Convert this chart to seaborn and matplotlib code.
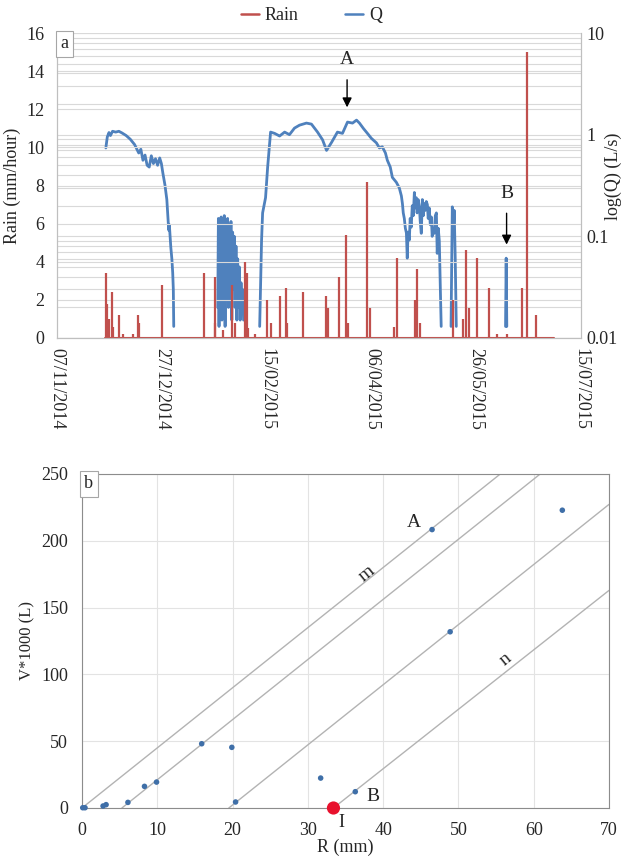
import numpy as np
import pandas as pd
import matplotlib
matplotlib.use("Agg")
import matplotlib.pyplot as plt
import matplotlib.dates as mdates
from matplotlib.ticker import FixedLocator, FixedFormatter, LogLocator, NullFormatter
from matplotlib.lines import Line2D
import seaborn as sns

# ---- panel a: rain events (days after 07/11/2014, mm/hour) ----
start_date = "2014-11-07"
end_date = "2015-07-15"
record_days = [23.0, 237.0]
rain_day = [23.3, 23.8, 24.8, 26.4, 26.8, 29.8, 31.4, 36.2, 38.8, 39.2,
            50.2, 70.0, 75.2, 75.6, 79.0, 83.3, 84.8, 89.7, 90.6, 91.0,
            94.3, 100.2, 101.9, 106.4, 109.2, 109.8, 117.6, 128.3, 129.5, 134.7,
            138.1, 139.0, 148.0, 149.5, 161.0, 162.2, 171.0, 171.8, 173.0, 189.0,
            193.5, 195.2, 196.7, 200.5, 206.2, 210.0, 214.5, 222.0, 224.0, 228.6]
rain_mm = [3.4, 1.8, 1.0, 2.4, 0.6, 1.2, 0.2, 0.2, 1.2, 0.8,
           2.8, 3.4, 3.2, 0.8, 0.4, 2.8, 0.8, 4.0, 3.4, 0.5,
           0.2, 2.0, 0.8, 2.2, 2.6, 0.8, 2.4, 2.2, 1.6, 3.2,
           5.4, 0.8, 8.2, 1.6, 0.6, 4.2, 2.0, 3.6, 0.8, 2.0,
           1.0, 4.6, 1.6, 4.2, 2.6, 0.2, 0.2, 2.6, 15.0, 1.2]

# discharge Q (L/s), nan separates the flowing periods
q_day = [23.3, 24.0, 24.8, 25.5, 26.5, 28.0, 29.5, 31.0, 33.0, 35.0,
         37.0, 39.0, 40.0, 41.0, 42.0, 43.0, 44.0, 45.0, 46.0, 47.0,
         48.0, 49.0, 49.8, 50.5, 51.5, 52.4, 53.3, 53.6, 54.3, 54.8,
         55.2, 55.5, 55.7, np.nan,
         76.7, 77.0, 77.3, 77.6, 78.0, 78.3, 78.7, 79.0, 79.4, 79.8,
         80.2, 80.6, 81.0, 81.4, 81.8, 82.2, 82.6, 83.0, 83.4, 83.8,
         84.2, 84.6, 85.0, 85.4, 85.8, 86.2, 86.6, 87.0, 87.4, 87.8,
         88.2, 88.6, 89.0, np.nan,
         96.7, 97.6, 98.1, 99.5, 100.5, 101.9, 103.8, 106.2, 108.6, 110.9,
         113.3, 115.7, 119.0, 121.4, 124.3, 126.7, 128.6, 131.0, 133.8, 136.2,
         138.6, 141.0, 142.9, 144.3, 146.2, 148.1, 150.0, 152.4, 153.8, 155.2,
         156.7, 157.6, 159.0, 160.0, 161.9, 163.3, 164.3,
         164.8, 165.2, 165.7, 166.2, 166.7, 167.1, 167.5, 168.1, 168.5, 169.0,
         169.5, 170.0, 170.5, 170.9, 171.4, 171.8, 172.3, 172.9, 173.3, 173.8,
         174.3, 174.8, 175.2, 175.7, 176.2, 176.7, 177.1, 177.6, 178.1, 178.6,
         179.0, 179.5, 180.0, 180.5, 181.0, 181.4, 181.9, 182.4, 182.9, 183.3,
         np.nan,
         188.0, 188.6, 189.0, 189.5, 190.0, 190.5, np.nan,
         214.0, 214.3, 214.6]
q_ls = [0.74, 0.95, 1.05, 0.98, 1.08, 1.06, 1.08, 1.04, 0.98, 0.90,
        0.80, 0.66, 0.72, 0.56, 0.63, 0.50, 0.48, 0.62, 0.52, 0.58,
        0.50, 0.59, 0.52, 0.42, 0.32, 0.23, 0.115, 0.13, 0.078, 0.06,
        0.044, 0.03, 0.013, np.nan,
        0.02, 0.15, 0.013, 0.14, 0.02, 0.155, 0.015, 0.15, 0.03, 0.16,
        0.013, 0.14, 0.05, 0.15, 0.02, 0.13, 0.04, 0.14, 0.015, 0.11,
        0.03, 0.10, 0.02, 0.08, 0.015, 0.06, 0.02, 0.05, 0.015, 0.035,
        0.02, 0.03, 0.015, np.nan,
        0.013, 0.092, 0.17, 0.24, 0.48, 1.06, 1.03, 0.97, 1.06, 1.0,
        1.16, 1.24, 1.30, 1.27, 1.06, 0.89, 0.70, 0.84, 1.06, 1.03,
        1.33, 1.30, 1.39, 1.30, 1.15, 1.03, 0.92, 0.83, 0.74, 0.76,
        0.66, 0.56, 0.48, 0.38, 0.34, 0.30, 0.25,
        0.21, 0.17, 0.15, 0.12, 0.108, 0.061, 0.11, 0.092, 0.15, 0.123,
        0.20, 0.16, 0.27, 0.19, 0.24, 0.17, 0.23, 0.195, 0.14, 0.107,
        0.23, 0.16, 0.21, 0.18, 0.22, 0.205, 0.15, 0.19, 0.13, 0.155,
        0.10, 0.12, 0.107, 0.16, 0.17, 0.068, 0.12, 0.09, 0.03, 0.013,
        np.nan,
        0.013, 0.195, 0.10, 0.18, 0.06, 0.013, np.nan,
        0.013, 0.061, 0.013]

# ---- panel b: event rain depth vs runoff volume ----
r_mm = [0.1, 0.4, 2.8, 3.2, 6.1, 8.3, 9.9, 15.9, 19.9, 20.4, 31.7, 36.3, 46.5, 48.9, 63.8]
v_l = [0.2, 0.2, 1.5, 2.5, 4.2, 16.2, 19.4, 48.1, 45.4, 4.5, 22.4, 12.2, 208.4, 131.9, 222.9]
i_point = (33.4, 0.0)
line_r0 = [0.0, 5.3, 19.5, 33.4]
line_slope = [4.5, 4.5, 4.5, 4.45]

sns.set_style("white")
plt.rcParams["font.family"] = ["Liberation Serif", "DejaVu Serif"]
plt.rcParams["font.size"] = 13

red = "#c0504d"
blue = "#4f81bd"
grid_c = "#d9d9d9"

fig = plt.figure(figsize=(6.23, 8.61), dpi=100)

# ---------------- panel a ----------------
ax = fig.add_axes([57 / 623, 1 - 338 / 861, 524 / 623, 305 / 861])
ax2 = ax.twinx()
ax.set_zorder(ax2.get_zorder() + 1)
ax.patch.set_visible(False)

t0 = pd.Timestamp(start_date)
qdf = pd.DataFrame({"day": q_day, "Q": q_ls})
qdf["seg"] = qdf["Q"].isna().cumsum()
qdf = qdf.dropna()
qdf["date"] = t0 + pd.to_timedelta(qdf["day"], unit="D")
sns.lineplot(data=qdf, x="date", y="Q", units="seg", estimator=None,
             color=blue, lw=2, ax=ax2, legend=False)
ax2.set_yscale("log")
ax2.set_ylim(0.01, 10)
ax2.yaxis.set_major_locator(FixedLocator([0.01, 0.1, 1, 10]))
ax2.yaxis.set_major_formatter(FixedFormatter(["0.01", "0.1", "1", "10"]))
ax2.yaxis.set_minor_locator(LogLocator(base=10, subs=np.arange(2, 10)))
ax2.yaxis.set_minor_formatter(NullFormatter())
ax2.grid(True, which="both", axis="y", color=grid_c, lw=0.8)
ax2.tick_params(axis="y", which="both", length=0, pad=4, labelsize=13)
ax2.set_ylabel("log(Q) (L/s)", fontsize=13)
ax2.yaxis.set_label_coords(1.046, 0.53)

rain_dates = t0 + pd.to_timedelta(rain_day, unit="D")
rec = t0 + pd.to_timedelta(record_days, unit="D")
ax.plot(rec, [0, 0], color=red, lw=1.5)
ax.vlines(rain_dates, 0, rain_mm, color=red, lw=1.6)
ax.set_ylim(0, 16)
ax.set_yticks(range(0, 17, 2))
ax.grid(True, axis="y", color=grid_c, lw=0.8)
ax.set_xlim(t0, pd.Timestamp(end_date))
ax.set_xticks(pd.date_range(t0, periods=6, freq="50D"))
ax.xaxis.set_major_formatter(mdates.DateFormatter("%d/%m/%Y"))
for lab in ax.get_xticklabels():
    lab.set_rotation(-90)
    lab.set_ha("center")
ax.tick_params(axis="x", length=4, color="#a6a6a6", labelsize=13)
ax.tick_params(axis="y", length=0, pad=9, labelsize=13)
ax.set_ylabel("Rain (mm/hour)", fontsize=13)
ax.yaxis.set_label_coords(-0.068, 0.5)
ax.set_xlabel("")
ax2.set_xlabel("")
for a in (ax, ax2):
    a.spines["top"].set_visible(False)
    for s in ("left", "right", "bottom"):
        a.spines[s].set_color("#bfbfbf")

ax.annotate("A", xy=(t0 + pd.Timedelta(days=138.4), 12.1),
            xytext=(t0 + pd.Timedelta(days=138.4), 14.6),
            ha="center", va="center", fontsize=14,
            arrowprops=dict(arrowstyle="-|>", color="black", lw=1, shrinkA=6, shrinkB=0))
ax.annotate("B", xy=(t0 + pd.Timedelta(days=214.5), 4.9),
            xytext=(t0 + pd.Timedelta(days=214.5), 7.6),
            ha="center", va="center", fontsize=14,
            arrowprops=dict(arrowstyle="-|>", color="black", lw=1, shrinkA=6, shrinkB=0))
ax.text(0.006, 0.992, "a", transform=ax.transAxes, ha="left", va="top", fontsize=13,
        bbox=dict(boxstyle="square,pad=0.25", fc="white", ec="#a6a6a6", lw=0.8))

handles = [Line2D([], [], color=red, lw=1.8), Line2D([], [], color=blue, lw=1.8)]
fig.legend(handles, ["Rain", "Q"], loc="center", bbox_to_anchor=(0.5, 0.982), ncol=2,
           frameon=False, handlelength=1.0, handletextpad=0.3, columnspacing=2.6, fontsize=13)

# ---------------- panel b ----------------
bx = fig.add_axes([82 / 623, 1 - 808 / 861, 527 / 623, 334 / 861])
for r0, sl in zip(line_r0, line_slope):
    bx.axline((r0, 0), slope=sl, color="#b3b3b3", lw=1)
sns.scatterplot(x=r_mm, y=v_l, ax=bx, color="#3f6fa8", s=16, edgecolor="none",
                clip_on=False, zorder=4)
sns.scatterplot(x=[i_point[0]], y=[i_point[1]], ax=bx, color="#e8112d", s=90,
                edgecolor="none", clip_on=False, zorder=5)
bx.set_xlim(0, 70)
bx.set_ylim(0, 250)
bx.set_xticks(range(0, 71, 10))
bx.set_yticks(range(0, 251, 50))
bx.grid(True, color="#e3e3e3", lw=0.8)
bx.set_axisbelow(True)
bx.tick_params(length=0, pad=10, labelsize=13)
for s in bx.spines.values():
    s.set_color("#8c8c8c")
bx.set_xlabel("R (mm)", fontsize=13, labelpad=0)
bx.set_ylabel("V*1000 (L)", fontsize=12, labelpad=4)

bx.text(44.1, 214, "A", fontsize=14, ha="center", va="center")
bx.text(38.7, 8.7, "B", fontsize=14, ha="center", va="center")
bx.text(34.5, -10.5, "I", fontsize=13, ha="center", va="center", clip_on=False)
bx.text(37.8, 175, "m", fontsize=14, ha="center", va="center", rotation=39)
bx.text(56.3, 111, "n", fontsize=14, ha="center", va="center", rotation=39)
bx.text(0.004, 0.996, "b", transform=bx.transAxes, ha="left", va="top", fontsize=13,
        bbox=dict(boxstyle="square,pad=0.25", fc="white", ec="#a6a6a6", lw=0.8))

fig.savefig("out.png", dpi=100)
